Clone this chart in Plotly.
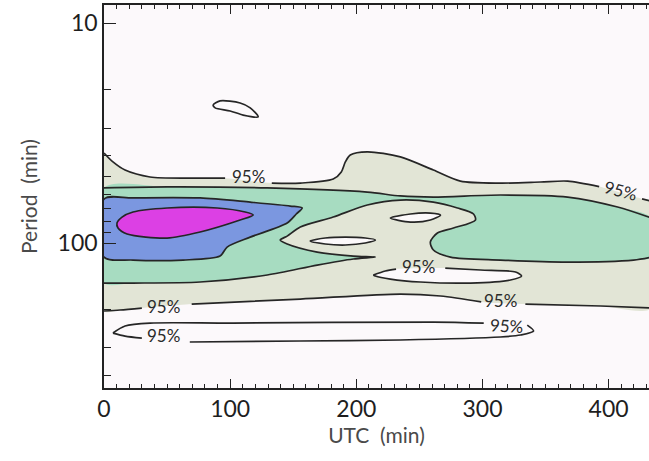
import math
import plotly.graph_objects as go

# Time axis (UTC, minutes) and period axis (minutes) of the wavelet power map.
time_range = [0, 432]
period_range = [8.28, 456]
time_ticks = [0, 100, 200, 300, 400]
period_ticks = [10, 100]
time_minor = [t for t in range(10, 440, 10) if t % 100]
period_minor = [20, 30, 40, 50, 60, 70, 80, 90, 200, 300, 400]

# Lowest power level (light band), upper and lower edges
low_top_t = [0, 7.1, 16.7, 36.5, 68.3, 96.0, 133.0, 155.6, 181.7, 188.1, 191.3, 195.2,
             208.7, 234.9, 261.1, 282.5, 314.3, 346.0, 367.5, 392.5, 426.5, 434]
low_top_p = [39.0, 42.8, 46.6, 50.1, 50.7, 50.7, 53.4, 53.4, 51.2, 47.5, 42.8, 39.8,
             38.5, 40.6, 46.6, 52.3, 53.4, 52.8, 52.3, 55.4, 63.0, 64.5]
low_bot_t = [434, 393.7, 334.0, 299.0, 266.7, 234.9, 155.6, 69.5, 30.0, 12.7, 0]
low_bot_p = [197.4, 193.3, 189.5, 185.2, 174.1, 170.6, 179.7, 189.5, 197.6, 201.6, 203.7]

# Second level (green band), upper edge and the lower edge with its notch
mid_top_t = [0, 50, 129.4, 208.7, 234.9, 261.1, 314.3, 367.5, 407.1, 434]
mid_top_p = [56.2, 55.6, 56.2, 58.7, 61.1, 61.8, 60.5, 61.8, 68.6, 77.0]
mid_bot_t = [434, 419.8, 367.5, 314.3, 274.6, 261.1, 258.7, 264.3, 277, 294.4, 292.9,
             280.2, 261.1, 234.9, 208.7, 181.7, 155.6, 145.2, 139.7, 145.2, 169,
             197.6, 215.1, 197.6, 169, 129.4, 76.2, 23, 0]
mid_bot_p = [115.8, 119.5, 122.0, 119.5, 115.8, 107.6, 98.9, 90.1, 85.5, 78.6, 73.8,
             69.3, 65.2, 63.8, 67.2, 76.2, 84.6, 93.0, 96.9, 101.0, 109.9,
             114.6, 115.8, 118.2, 125.9, 139.7, 150.4, 152.0, 152.0]

# Third level (blue)
high_t = [0, 23, 76.2, 115.9, 147.6, 157.1, 152.4, 145.2, 115.9, 97.6, 92, 62.7, 23, 0]
high_p = [63.1, 62.4, 62.4, 65.2, 67.9, 69.3, 73.8, 81.1, 94.0, 104.3, 114.6, 119.5, 119.5, 115.8]

# Peak level (magenta)
peak_t = [10.3, 14.3, 23, 50, 89.7, 111.9, 118.3, 107.9, 76.2, 50, 18.3, 11.1]
peak_p = [81.1, 76.2, 72.3, 69.3, 69.3, 72.3, 74.6, 78.6, 89.1, 94.9, 91.0, 85.5]

# Small closed 95% contours
islet_t = [86.5, 92, 107.9, 115.9, 122.2, 110.3, 100, 88.1]
islet_p = [23.6, 22.6, 23.1, 24.3, 26.7, 26.2, 25.1, 24.3]
hole1_t = [163.5, 175.4, 191.3, 207.1, 215.1, 207.1, 191.3, 175.4]
hole1_p = [97.9, 94.9, 94.0, 94.9, 96.9, 100, 102.1, 101.0]
hole2_t = [227, 242.9, 258.7, 266.7, 258.7, 242.9]
hole2_p = [77.0, 73.8, 73.1, 74.6, 78.6, 80.3]
tongue_t = [213.5, 223, 231.5, 270.5, 298.4, 326.2, 331, 322.2, 290.5, 250.8, 227, 215.1]
tongue_p = [139.7, 134.0, 131.3, 130.0, 132.6, 135.4, 141.2, 147.2, 152.0, 150.4, 145.8, 141.2]
long_t = [7.1, 16.7, 36.5, 102.4, 261.1, 301.0, 335.5, 340.5, 330.2, 314.3, 234.9,
          155.6, 68.0, 30.0, 16.7, 7.1]
long_p = [256.6, 238.4, 231.2, 231.2, 228.6, 231.2, 236.2, 251.2, 261.9, 267.4, 275.9,
          278.8, 281.8, 270.4, 264.8, 256.6]

# "95%" contour labels: time, period, rotation
label_t = [114.3, 409.5, 249.2, 46.8, 314.3, 319.0, 46.8]
label_p = [49.6, 58.0, 128.5, 193.3, 183.4, 235.9, 261.9]
label_rot = [0, 15, 0, 0, 0, 3, 0]

BG = "#fcf9fb"
LINE = "#262626"
FONT = "Lato"

fig = go.Figure()


def fill(t, p, color):
    fig.add_trace(go.Scatter(x=t + t[:1], y=p + p[:1], mode="lines", fill="toself",
                             fillcolor=color, line=dict(width=0, shape="spline", smoothing=0.8),
                             hoverinfo="skip", showlegend=False))


def outline(t, p, breaks=(), closed=False):
    xs, ys = [], []
    tt, pp = (t + t[:1], p + p[:1]) if closed else (t, p)
    for i, (a, b) in enumerate(zip(tt, pp)):
        xs.append(a)
        ys.append(b)
        if i in breaks:
            xs.append(None)
            ys.append(None)
    fig.add_trace(go.Scatter(x=xs, y=ys, mode="lines", connectgaps=False,
                             line=dict(color=LINE, width=1.7, shape="spline", smoothing=0.8),
                             hoverinfo="skip", showlegend=False))


fill(low_top_t + low_bot_t, low_top_p + low_bot_p, "#e2e5d6")
fill(mid_top_t + mid_bot_t, mid_top_p + mid_bot_p, "#a7dcc1")
fill(high_t, high_p, "#7b97e0")
fill(peak_t, peak_p, "#dc40e4")
fill(hole1_t, hole1_p, BG)
fill(hole2_t, hole2_p, BG)
fill(tongue_t, tongue_p, BG)

outline(low_top_t, low_top_p, breaks=(5, 19))
outline(low_bot_t, low_bot_p, breaks=(2, 7))
outline(mid_top_t, mid_top_p)
outline(mid_bot_t, mid_bot_p)
outline(high_t, high_p, closed=True)
outline(peak_t, peak_p, closed=True)
outline(islet_t, islet_p, closed=True)
outline(hole1_t, hole1_p, closed=True)
outline(hole2_t, hole2_p, closed=True)
outline(tongue_t, tongue_p, breaks=(2,), closed=True)
outline(long_t, long_p, breaks=(5, 12))

# annotation positions on a log axis are given in log10 units
for t, p, r in zip(label_t, label_p, label_rot):
    fig.add_annotation(x=t, y=math.log10(p), xref="x", yref="y", text="95%",
                       showarrow=False, textangle=r,
                       font=dict(family=FONT, size=17, color="#2a2a2a"))

tick_style = dict(showline=True, linecolor="#222222", linewidth=1.5,
                  ticks="inside", tickcolor="#222222", tickwidth=1.2,
                  showgrid=False, zeroline=False,
                  tickfont=dict(family=FONT, size=23, color="#1e1e1e"))
title_font = dict(family=FONT, size=21, color="#4a4a4a")

fig.update_xaxes(range=time_range, tickvals=time_ticks, ticklen=9, mirror="ticks",
                 minor=dict(tickvals=time_minor, ticks="inside", ticklen=4,
                            tickcolor="#222222", tickwidth=1),
                 title=dict(text="UTC\u00a0 (min)", standoff=6, font=title_font),
                 **tick_style)

fig.update_yaxes(type="log",
                 range=[math.log10(period_range[1]), math.log10(period_range[0])],
                 tickvals=period_ticks, ticktext=[str(v) for v in period_ticks], ticklen=12,
                 minor=dict(tickvals=period_minor, ticks="inside", ticklen=7,
                            tickcolor="#222222", tickwidth=1),
                 title=dict(text="Period\u00a0 (min)", standoff=14, font=title_font),
                 **tick_style)

fig.update_layout(width=649, height=461, margin=dict(l=104, r=0, t=5, b=73),
                  plot_bgcolor=BG, paper_bgcolor="white", showlegend=False)

fig.write_html("out.html")
